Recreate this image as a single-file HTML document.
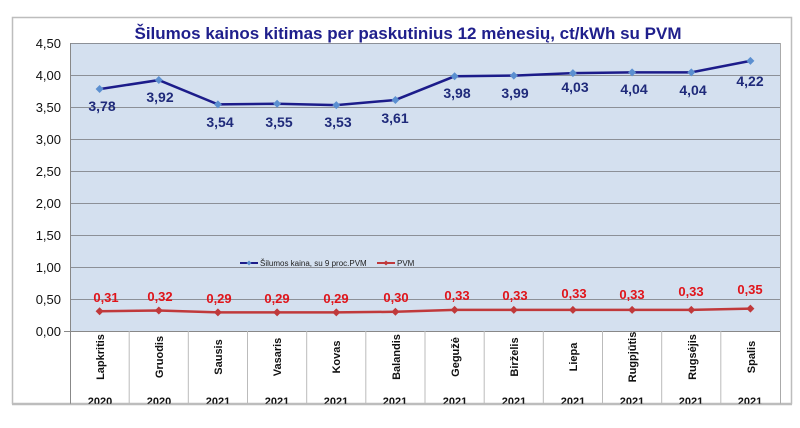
<!DOCTYPE html>
<html><head><meta charset="utf-8"><style>
body{margin:0;background:#fff;}
text{font-family:"Liberation Sans",Arial,sans-serif;}
</style></head><body>
<svg width="800" height="423" xmlns="http://www.w3.org/2000/svg">
<rect x="12.5" y="17.5" width="779" height="386" fill="#fff" stroke="#bdbdbd" stroke-width="1.5"/>
<text x="408" y="39" font-size="17" font-weight="bold" fill="#1f1f8c" text-anchor="middle">Šilumos kainos kitimas per paskutinius 12 mėnesių, ct/kWh su PVM</text>
<rect x="70" y="43" width="710" height="288" fill="#d4e0ef"/>
<g stroke="#8c9097" stroke-width="1">
<line x1="70" x2="780" y1="43.5" y2="43.5"/><line x1="70" x2="780" y1="75.5" y2="75.5"/>
<line x1="70" x2="780" y1="107.5" y2="107.5"/><line x1="70" x2="780" y1="139.5" y2="139.5"/>
<line x1="70" x2="780" y1="171.5" y2="171.5"/><line x1="70" x2="780" y1="203.5" y2="203.5"/>
<line x1="70" x2="780" y1="235.5" y2="235.5"/><line x1="70" x2="780" y1="267.5" y2="267.5"/>
<line x1="70" x2="780" y1="299.5" y2="299.5"/>
</g>
<line x1="70.5" y1="43" x2="70.5" y2="404" stroke="#888"/>
<line x1="780.5" y1="43" x2="780.5" y2="404" stroke="#aaa"/>
<line x1="64" y1="331.5" x2="780" y2="331.5" stroke="#888"/>
<g stroke="#bbb">
<line x1="129.2" x2="129.2" y1="331" y2="404"/><line x1="188.3" x2="188.3" y1="331" y2="404"/>
<line x1="247.5" x2="247.5" y1="331" y2="404"/><line x1="306.7" x2="306.7" y1="331" y2="404"/>
<line x1="365.8" x2="365.8" y1="331" y2="404"/><line x1="425" x2="425" y1="331" y2="404"/>
<line x1="484.2" x2="484.2" y1="331" y2="404"/><line x1="543.3" x2="543.3" y1="331" y2="404"/>
<line x1="602.5" x2="602.5" y1="331" y2="404"/><line x1="661.7" x2="661.7" y1="331" y2="404"/>
<line x1="720.8" x2="720.8" y1="331" y2="404"/>
</g>
<g font-size="13" text-anchor="end" fill="#111">
<text x="61" y="48">4,50</text><text x="61" y="80">4,00</text><text x="61" y="112">3,50</text>
<text x="61" y="144">3,00</text><text x="61" y="176">2,50</text><text x="61" y="208">2,00</text>
<text x="61" y="240">1,50</text><text x="61" y="272">1,00</text><text x="61" y="304">0,50</text>
<text x="61" y="336">0,00</text>
</g>
<polyline fill="none" stroke="#1c1c8a" stroke-width="2.5" points="99.6,89.1 158.8,80.1 217.9,104.4 277.1,103.8 336.3,105.1 395.4,99.96 454.6,76.3 513.8,75.6 572.9,73.1 632.1,72.4 691.3,72.4 750.4,60.9"/>
<g fill="#5b8fd0">
<path d="M99.6 85l4 4-4 4-4-4z"/><path d="M158.8 76l4 4-4 4-4-4z"/><path d="M217.9 100.4l4 4-4 4-4-4z"/><path d="M277.1 99.8l4 4-4 4-4-4z"/><path d="M336.3 101.1l4 4-4 4-4-4z"/><path d="M395.4 96l4 4-4 4-4-4z"/><path d="M454.6 72.3l4 4-4 4-4-4z"/><path d="M513.8 71.6l4 4-4 4-4-4z"/><path d="M572.9 69.1l4 4-4 4-4-4z"/><path d="M632.1 68.4l4 4-4 4-4-4z"/><path d="M691.3 68.4l4 4-4 4-4-4z"/><path d="M750.4 56.9l4 4-4 4-4-4z"/>
</g>
<g font-size="14" font-weight="bold" fill="#1f2a7a" text-anchor="middle">
<text x="102" y="111">3,78</text><text x="160" y="102">3,92</text><text x="220" y="127">3,54</text>
<text x="279" y="127">3,55</text><text x="338" y="127">3,53</text><text x="395" y="123">3,61</text>
<text x="457" y="98">3,98</text><text x="515" y="98">3,99</text><text x="575" y="92">4,03</text>
<text x="634" y="94">4,04</text><text x="693" y="95">4,04</text><text x="750" y="86">4,22</text>
</g>
<polyline fill="none" stroke="#c0393b" stroke-width="2.5" points="99.6,311.2 158.8,310.5 217.9,312.4 277.1,312.4 336.3,312.4 395.4,311.8 454.6,309.9 513.8,309.9 572.9,309.9 632.1,309.9 691.3,309.9 750.4,308.6"/>
<g fill="#c0393b">
<path d="M99.6 307.2l4 4-4 4-4-4z"/><path d="M158.8 306.5l4 4-4 4-4-4z"/><path d="M217.9 308.4l4 4-4 4-4-4z"/><path d="M277.1 308.4l4 4-4 4-4-4z"/><path d="M336.3 308.4l4 4-4 4-4-4z"/><path d="M395.4 307.8l4 4-4 4-4-4z"/><path d="M454.6 305.9l4 4-4 4-4-4z"/><path d="M513.8 305.9l4 4-4 4-4-4z"/><path d="M572.9 305.9l4 4-4 4-4-4z"/><path d="M632.1 305.9l4 4-4 4-4-4z"/><path d="M691.3 305.9l4 4-4 4-4-4z"/><path d="M750.4 304.6l4 4-4 4-4-4z"/>
</g>
<g font-size="13" font-weight="bold" fill="#e0141a" text-anchor="middle">
<text x="106" y="302">0,31</text><text x="160" y="301">0,32</text><text x="219" y="303">0,29</text>
<text x="277" y="303">0,29</text><text x="336" y="303">0,29</text><text x="396" y="302">0,30</text>
<text x="457" y="300">0,33</text><text x="515" y="300">0,33</text><text x="574" y="298">0,33</text>
<text x="632" y="299">0,33</text><text x="691" y="296">0,33</text><text x="750" y="294">0,35</text>
</g>
<line x1="240" y1="263" x2="258" y2="263" stroke="#1c1c8a" stroke-width="2"/>
<path d="M249 260.5l2.5 2.5-2.5 2.5-2.5-2.5z" fill="#5b8fd0"/>
<text x="260" y="266" font-size="8" fill="#222">Šilumos kaina, su 9 proc.PVM</text>
<line x1="377" y1="263" x2="395" y2="263" stroke="#c0393b" stroke-width="2"/>
<path d="M386 260.5l2.5 2.5-2.5 2.5-2.5-2.5z" fill="#c0393b"/>
<text x="397" y="266" font-size="8" fill="#222">PVM</text>
<g font-size="11" font-weight="bold" fill="#111" text-anchor="middle">
<text transform="translate(104,357) rotate(-90)">Lapkritis</text>
<text transform="translate(163,357) rotate(-90)">Gruodis</text>
<text transform="translate(222,357) rotate(-90)" >Sausis</text>
<text transform="translate(281,357) rotate(-90)">Vasaris</text>
<text transform="translate(340,357) rotate(-90)">Kovas</text>
<text transform="translate(400,357) rotate(-90)">Balandis</text>
<text transform="translate(459,357) rotate(-90)">Gegužė</text>
<text transform="translate(518,357) rotate(-90)">Birželis</text>
<text transform="translate(577,357) rotate(-90)">Liepa</text>
<text transform="translate(636,357) rotate(-90)">Rugpjūtis</text>
<text transform="translate(696,357) rotate(-90)">Rugsėjis</text>
<text transform="translate(755,357) rotate(-90)">Spalis</text>
</g>
<g font-size="11" font-weight="bold" fill="#111" text-anchor="middle">
<text x="100" y="405">2020</text><text x="159" y="405">2020</text><text x="218" y="405">2021</text>
<text x="277" y="405">2021</text><text x="336" y="405">2021</text><text x="395" y="405">2021</text>
<text x="455" y="405">2021</text><text x="514" y="405">2021</text><text x="573" y="405">2021</text>
<text x="632" y="405">2021</text><text x="691" y="405">2021</text><text x="750" y="405">2021</text>
</g>
<rect x="0" y="405" width="800" height="18" fill="#fff"/>
<line x1="12" y1="404.5" x2="792" y2="404.5" stroke="#bdbdbd" stroke-width="1.5"/>
</svg>
</body></html>
